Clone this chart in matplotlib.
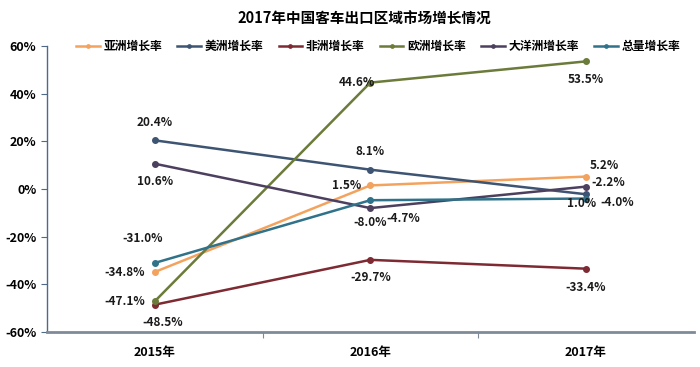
import matplotlib
matplotlib.use('Agg')
import matplotlib.pyplot as plt
from matplotlib.ticker import FuncFormatter

plt.rcParams['font.family'] = ['Noto Sans CJK SC', 'DejaVu Sans']
plt.rcParams['font.weight'] = 'bold'

years = ['2015年', '2016年', '2017年']
series_names = ['亚洲增长率', '美洲增长率', '非洲增长率', '欧洲增长率', '大洋洲增长率', '总量增长率']
asia = [-34.8, 1.5, 5.2]
america = [20.4, 8.1, -2.2]
africa = [-48.5, -29.7, -33.4]
europe = [-47.1, 44.6, 53.5]
oceania = [10.6, -8.0, 1.0]
total = [-31.0, -4.7, -4.0]

colors = ['#F4A35E', '#3D5572', '#7D2A32', '#6B7B3A', '#4D405F', '#2F7289']
values = [asia, america, africa, europe, oceania, total]

# label offsets in pixels (dx, dy) per series per year
offsets = [
    [(-30, 0), (-24, 0), (18, 11)],
    [(0, 18), (0, 18), (22, 12)],
    [(8, -18), (0, -18), (0, -19)],
    [(-30, 0), (-13, 0), (0, -18)],
    [(0, -18), (0, -14), (-4, -17)],
    [(-12, 24), (33, -18), (31, -4)],
]

fig = plt.figure(figsize=(7.0, 3.67), dpi=100)
ax = fig.add_axes([0.067, 0.095, 0.924, 0.78])

x = list(range(len(years)))
for name, vals, c, offs in zip(series_names, values, colors, offsets):
    ax.plot(x, vals, color=c, lw=1.8, marker='o', ms=4, label=name)
    for xi, v, (dx, dy) in zip(x, vals, offs):
        ax.annotate(f'{v:.1f}%', (xi, v), xytext=(dx, dy), textcoords='offset pixels',
                    ha='center', va='center', fontsize=8.5, fontweight='bold', color='#1a1a1a')

ax.set_xlim(-0.5, 2.5)
ax.set_ylim(-60, 60)
ax.set_yticks(range(-60, 61, 20))
ax.yaxis.set_major_formatter(FuncFormatter(lambda v, p: f'{v:.0f}%'))
ax.set_xticks([0.5, 1.5])
ax.set_xticklabels([])
ax.set_xticks(x, minor=True)
ax.set_xticklabels(years, minor=True)
ax.tick_params(axis='x', which='minor', length=0, pad=10, labelsize=9)
ax.tick_params(axis='x', which='major', length=4, color='#7f8a99')
ax.tick_params(axis='y', length=4, color='#4F6A88', labelsize=9)
for lab in ax.get_xticklabels(minor=True) + ax.get_yticklabels():
    lab.set_fontweight('bold')

ax.spines['top'].set_visible(False)
ax.spines['right'].set_visible(False)
ax.spines['left'].set_color('#4F6A88')
ax.spines['left'].set_linewidth(1.0)
ax.spines['bottom'].set_color('#7f8a99')
ax.spines['bottom'].set_linewidth(2.0)

fig.suptitle('2017年中国客车出口区域市场增长情况', x=0.52, y=0.97, fontsize=10.5, fontweight='bold')
leg = fig.legend(loc='center', bbox_to_anchor=(0.54, 0.873), ncol=6, frameon=False,
                 fontsize=8.5, handlelength=2.0, handletextpad=0.3, columnspacing=1.3,
                 markerscale=0.6)
for t in leg.get_texts():
    t.set_fontweight('bold')

fig.savefig('out.png', dpi=100)
